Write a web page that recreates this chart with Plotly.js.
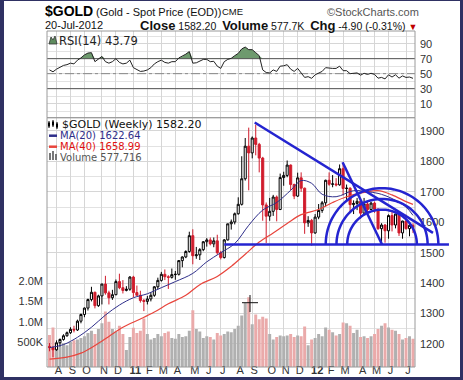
<!DOCTYPE html>
<html><head><meta charset="utf-8">
<script src="https://cdn.plot.ly/plotly-3.0.1.min.js"></script>
<style>
html,body{margin:0;padding:0;background:#fff;}
#wrap{position:relative;width:463px;height:380px;overflow:hidden;}
#chart{position:absolute;left:0;top:0;width:463px;height:380px;}
#frame{position:absolute;left:0;top:0;width:463px;height:380px;box-sizing:border-box;border-style:solid;border-color:#2f3163;border-width:1px 3px 3px 4px;pointer-events:none;}
</style></head><body>
<div id="wrap"><div id="chart"></div><div id="frame"></div></div>
<script>
// ---------------- DATA ----------------
const dates = ['2010-07-23','2010-07-30','2010-08-06','2010-08-13','2010-08-20','2010-08-27','2010-09-03','2010-09-10','2010-09-17','2010-09-24','2010-10-01','2010-10-08','2010-10-15','2010-10-22','2010-10-29','2010-11-05','2010-11-12','2010-11-19','2010-11-26','2010-12-03','2010-12-10','2010-12-17','2010-12-24','2010-12-31','2011-01-07','2011-01-14','2011-01-21','2011-01-28','2011-02-04','2011-02-11','2011-02-18','2011-02-25','2011-03-04','2011-03-11','2011-03-18','2011-03-25','2011-04-01','2011-04-08','2011-04-15','2011-04-22','2011-04-29','2011-05-06','2011-05-13','2011-05-20','2011-05-27','2011-06-03','2011-06-10','2011-06-17','2011-06-24','2011-07-01','2011-07-08','2011-07-15','2011-07-22','2011-07-29','2011-08-05','2011-08-12','2011-08-19','2011-08-26','2011-09-02','2011-09-09','2011-09-16','2011-09-23','2011-09-30','2011-10-07','2011-10-14','2011-10-21','2011-10-28','2011-11-04','2011-11-11','2011-11-18','2011-11-25','2011-12-02','2011-12-09','2011-12-16','2011-12-23','2011-12-30','2012-01-06','2012-01-13','2012-01-20','2012-01-27','2012-02-03','2012-02-10','2012-02-17','2012-02-24','2012-03-02','2012-03-09','2012-03-16','2012-03-23','2012-03-30','2012-04-06','2012-04-13','2012-04-20','2012-04-27','2012-05-04','2012-05-11','2012-05-18','2012-05-25','2012-06-01','2012-06-08','2012-06-15','2012-06-22','2012-06-29','2012-07-06','2012-07-13','2012-07-20'];
const opens  = [1192,1188,1181,1204,1215,1227,1237,1248,1246,1275,1297,1318,1346,1370,1326,1358,1397,1368,1352,1362,1405,1385,1376,1380,1420,1369,1360,1343,1340,1348,1360,1388,1409,1429,1421,1419,1428,1429,1474,1486,1504,1556,1490,1493,1510,1536,1542,1529,1539,1500,1484,1542,1595,1601,1628,1659,1743,1850,1828,1877,1856,1811,1657,1620,1636,1683,1642,1747,1754,1788,1724,1686,1746,1712,1598,1606,1565,1617,1639,1664,1738,1725,1726,1723,1776,1711,1712,1658,1662,1669,1630,1660,1642,1663,1643,1579,1591,1572,1622,1591,1627,1565,1604,1579,1590];
const highs  = [1203,1192,1212,1218,1232,1241,1255,1260,1280,1300,1320,1349,1388,1372,1362,1398,1424,1375,1378,1412,1431,1410,1390,1423,1424,1392,1375,1348,1358,1370,1390,1418,1437,1445,1426,1448,1440,1476,1488,1508,1569,1577,1519,1515,1538,1548,1550,1550,1559,1506,1545,1595,1609,1632,1682,1817,1877,1911,1882,1921,1861,1815,1665,1680,1690,1688,1760,1766,1803,1790,1727,1763,1764,1714,1620,1611,1627,1660,1670,1740,1764,1755,1745,1790,1796,1724,1715,1672,1680,1675,1680,1667,1667,1668,1645,1597,1594,1626,1640,1628,1628,1605,1625,1600,1597];
const lows   = [1176,1157,1178,1191,1211,1224,1233,1238,1243,1268,1288,1310,1340,1317,1322,1330,1362,1330,1345,1360,1380,1366,1373,1375,1354,1360,1336,1308,1330,1340,1355,1380,1405,1410,1381,1415,1411,1425,1452,1482,1500,1462,1480,1476,1505,1520,1524,1518,1494,1478,1481,1540,1576,1593,1625,1655,1737,1705,1810,1820,1764,1605,1532,1605,1621,1603,1640,1720,1748,1706,1676,1683,1700,1562,1585,1523,1562,1610,1631,1652,1720,1715,1718,1720,1688,1670,1635,1627,1640,1612,1628,1626,1640,1631,1575,1527,1533,1546,1570,1580,1555,1546,1576,1554,1565];
const closes = [1188,1181,1204,1215,1227,1237,1248,1246,1275,1297,1318,1346,1370,1326,1358,1397,1368,1352,1362,1405,1385,1376,1380,1420,1369,1360,1343,1340,1348,1360,1388,1409,1429,1421,1419,1428,1429,1474,1486,1504,1556,1490,1493,1510,1536,1542,1529,1539,1500,1484,1542,1595,1601,1628,1659,1743,1850,1828,1877,1856,1811,1657,1620,1636,1683,1642,1747,1754,1788,1724,1686,1746,1712,1598,1606,1565,1617,1639,1664,1738,1725,1726,1723,1776,1711,1712,1658,1662,1669,1630,1660,1642,1663,1643,1579,1591,1572,1622,1591,1627,1565,1604,1579,1590,1582.2];
const volumes = [670000,860000,430000,390000,470000,420000,500000,540000,560000,600000,640000,720000,780000,700000,820000,960000,1250000,1000000,820000,760000,900000,700000,300000,620000,850000,720000,780000,1080000,700000,560000,600000,700000,640000,720000,760000,600000,580000,700000,620000,640000,780000,1280000,820000,760000,600000,640000,620000,560000,720000,660000,700000,760000,740000,820000,900000,1150000,1460000,1600000,940000,1180000,1060000,1120000,1080000,700000,560000,620000,660000,640000,660000,700000,620000,660000,640000,880000,420000,560000,600000,700000,640000,860000,800000,740000,660000,700000,980000,960000,900000,720000,800000,620000,640000,600000,640000,700000,820000,900000,960000,860000,800000,780000,700000,560000,600000,640000,577716];
const rsi = [55,52.5,56,59,61,62,64,63,68,71,75,77.5,78,66,69,73,66,64,66,70,65,63,64,68,58,56,53,53.5,55,58,63,66,68,65,64,66,66,71,73,76,79.5,64,64.5,67,69,69,66,66.5,60,57,66,69,70.5,74,77,83,85.5,82,82,78,74,55,51.5,51,55,53,60,60.5,62,56,53,57,51,45,46,43.8,48.5,51,53,58,57,57,57,60,54,54,50,50.5,51,48,50.5,49,50.5,49,44,45,43,48.5,45.5,48.5,44,47,45,45.5,43.79];
const ma20Dates = ['2010-07-23','2010-08-20','2010-09-17','2010-10-15','2010-11-12','2010-12-10','2011-01-07','2011-02-04','2011-03-04','2011-04-01','2011-05-06','2011-06-03','2011-07-01','2011-07-29','2011-08-26','2011-09-23','2011-10-21','2011-11-18','2011-12-09','2011-12-30','2012-01-20','2012-02-17','2012-03-23','2012-04-20','2012-05-11','2012-06-08','2012-07-06','2012-07-20'];
const ma20 = [1188,1198,1222,1255,1295,1328,1352,1365,1385,1405,1432,1470,1500,1530,1590,1640,1665,1705,1737,1728,1692,1684,1704,1700,1695,1678,1650,1622.64];
const ma40Dates = ['2010-07-23','2010-08-27','2010-09-24','2010-10-22','2010-11-19','2010-12-17','2011-01-21','2011-02-18','2011-03-18','2011-04-22','2011-05-20','2011-06-24','2011-07-22','2011-08-19','2011-09-16','2011-10-14','2011-11-11','2011-12-09','2012-01-13','2012-02-10','2012-03-09','2012-04-13','2012-05-11','2012-06-08','2012-07-06','2012-07-20'];
const ma40 = [1150,1157,1170,1195,1225,1255,1282,1305,1332,1360,1395,1422,1455,1495,1535,1565,1596,1625,1642,1665,1684,1698,1704,1690,1668,1658.99];
const monthTicks = ['2010-08-06','2010-09-03','2010-10-01','2010-11-05','2010-12-03','2011-01-07','2011-02-04','2011-03-04','2011-04-01','2011-05-06','2011-06-03','2011-07-01','2011-08-05','2011-09-02','2011-10-07','2011-11-04','2011-12-02','2012-01-06','2012-02-03','2012-03-02','2012-04-06','2012-05-04','2012-06-01','2012-07-06'];
const monthLabels = ['A','S','O','N','D','<b>11</b>','F','M','A','M','J','J','A','S','O','N','D','<b>12</b>','F','M','A','M','J','J'];
const priceTicks = [1200,1300,1400,1500,1600,1700,1800,1900];
const volTicks = [500000,1000000,1500000,2000000];
const volLabels = ['500K','1.0M','1.5M','2.0M'];
const rsiTicks = [10,30,50,70,90];
// drawn trendlines / Fibonacci arcs (date, price)
const trendDates = ['2011-09-07','2012-08-29'];
const trendPrices = [1928,1565];
const fibDates = ['2012-03-01','2012-05-19'];
const fibPrices = [1797,1527];
const supportDates = ['2011-07-08','2012-09-30'];
const supportPrices = [1527,1527];
const fibRatios = [0.382,0.5,0.618];

// ---------------- GEOMETRY ----------------
const W=463,H=380,ML=47,MR=48,MT=31,MB=13;
const PW=W-ML-MR, PH=H-MT-MB;
const X_RANGE=['2010-07-18','2012-07-24'];
const MAIN_DOM=[0,0.742], RSI_DOM=[0.742,1];
const PRICE_RANGE=[1124.4,1943.7];
const VOL_RANGE=[-115800,6024000];
const RSI_RANGE=[-8.7,106.9];
const ms=d=>new Date(d+'T00:00:00Z').getTime();
const xr0=ms(X_RANGE[0]), xr1=ms(X_RANGE[1]);
const xP=d=>(ms(d)-xr0)/(xr1-xr0);
const yP=p=>MAIN_DOM[0]+(p-PRICE_RANGE[0])/(PRICE_RANGE[1]-PRICE_RANGE[0])*(MAIN_DOM[1]-MAIN_DOM[0]);
const pxX=px=>(px-ML)/PW, pxY=py=>(H-MB-py)/PH;

const BLUE='#2424d0';
// ---------------- TRACES ----------------
const up = closes.map((c,i)=> i===0 ? c>=opens[0] : c>=closes[i-1]);
function pick(arr,flag){return arr.filter((v,i)=>up[i]===flag);}
const traces=[];
traces.push({type:'bar',x:dates,y:volumes.map(v=>v-VOL_RANGE[0]),base:VOL_RANGE[0],xaxis:'x',yaxis:'y2',
  marker:{color:up.map(u=>u?'#b0b0b0':'#eaaaaa'),line:{width:0}},hoverinfo:'skip'});
traces.push({type:'scatter',mode:'lines',x:ma40Dates,y:ma40,xaxis:'x',yaxis:'y3',line:{color:'#e8453c',width:1.2,shape:'spline'},hoverinfo:'skip'});
traces.push({type:'scatter',mode:'lines',x:ma20Dates,y:ma20,xaxis:'x',yaxis:'y3',line:{color:'#2e2e8a',width:1,shape:'spline'},hoverinfo:'skip'});
[[true,'#000000'],[false,'#d01c2c']].forEach(([flag,col])=>{
  traces.push({type:'candlestick',x:pick(dates,flag),open:pick(opens,flag),high:pick(highs,flag),low:pick(lows,flag),close:pick(closes,flag),
    xaxis:'x',yaxis:'y3',whiskerwidth:0,
    increasing:{line:{color:col,width:1},fillcolor:'#ffffff'},
    decreasing:{line:{color:col,width:1},fillcolor:col},hoverinfo:'skip'});
});
// RSI
traces.push({type:'scatter',mode:'lines',x:dates,y:dates.map(()=>70),xaxis:'x',yaxis:'y',line:{width:0},hoverinfo:'skip'});
traces.push({type:'scatter',mode:'lines',x:dates,y:rsi.map(v=>Math.max(v,70)),xaxis:'x',yaxis:'y',line:{width:0},fill:'tonexty',fillcolor:'#6e9a6e',hoverinfo:'skip'});
[[70,'solid','#555'],[30,'solid','#555'],[50,'dashdot','#888']].forEach(([lv,dash,col])=>{
  traces.push({type:'scatter',mode:'lines',x:X_RANGE,y:[lv,lv],xaxis:'x',yaxis:'y',line:{color:col,width:1,dash:dash},hoverinfo:'skip'});
});
traces.push({type:'scatter',mode:'lines',x:dates,y:rsi,xaxis:'x',yaxis:'y',line:{color:'#222',width:1},hoverinfo:'skip'});

// ---------------- SHAPES ----------------
const shapes=[];
shapes.push({type:'rect',xref:'paper',yref:'paper',x0:0,x1:1,y0:RSI_DOM[0],y1:RSI_DOM[1],line:{color:'#9a9a9a',width:1}});
shapes.push({type:'rect',xref:'paper',yref:'paper',x0:0,x1:1,y0:MAIN_DOM[0],y1:MAIN_DOM[1],line:{color:'#9a9a9a',width:1}});
function seg(ds,ps){return {type:'line',xref:'paper',yref:'paper',x0:xP(ds[0]),y0:yP(ps[0]),x1:xP(ds[1]),y1:yP(ps[1]),line:{color:BLUE,width:2.5}};}
shapes.push(seg(supportDates,supportPrices));
shapes.push(seg(trendDates,trendPrices));
shapes.push(seg(fibDates,fibPrices));
// Fibonacci arcs centred on fib line end, radius = ratio * pixel length
const fx0=xP(fibDates[0])*PW, fy0=yP(fibPrices[0])*PH, fx1=xP(fibDates[1])*PW, fy1=yP(fibPrices[1])*PH;
const fLen=Math.hypot(fx1-fx0,fy1-fy0);
fibRatios.forEach(r=>{
  const rad=r*fLen; let p='';
  for(let k=0;k<=60;k++){const t=Math.PI*k/60;
    const x=(fx1+rad*Math.cos(t))/PW, y=(fy1+rad*Math.sin(t))/PH;
    p+=(k===0?'M':'L')+x.toFixed(5)+','+y.toFixed(5);}
  shapes.push({type:'path',xref:'paper',yref:'paper',path:p,line:{color:BLUE,width:2.5}});
});
// cursor crosshair in screenshot
shapes.push({type:'line',xref:'paper',yref:'paper',x0:pxX(242),x1:pxX(258),y0:pxY(302.7),y1:pxY(302.7),line:{color:'#111',width:1}});
shapes.push({type:'line',xref:'paper',yref:'paper',x0:pxX(250),x1:pxX(250),y0:pxY(295),y1:pxY(312),line:{color:'#111',width:1}});
// legend icons
shapes.push({type:'line',xref:'paper',yref:'paper',x0:pxX(49),x1:pxX(57),y0:pxY(135.7),y1:pxY(135.7),line:{color:'#2e2e8a',width:2.5}});
shapes.push({type:'line',xref:'paper',yref:'paper',x0:pxX(49),x1:pxX(57),y0:pxY(146.7),y1:pxY(146.7),line:{color:'#e8453c',width:2.5}});
[[49,153],[52,151],[55,154]].forEach(([x,y])=>shapes.push({type:'rect',xref:'paper',yref:'paper',x0:pxX(x),x1:pxX(x+2),y0:pxY(160),y1:pxY(y),fillcolor:'#777',line:{width:0}}));
[[49,121,128],[53,120,127],[57,122,129]].forEach(([x,a,b])=>{shapes.push({type:'line',xref:'paper',yref:'paper',x0:pxX(x),x1:pxX(x),y0:pxY(a),y1:pxY(b),line:{color:'#000',width:1}});});
[[48,122.5,126.5],[52,121.5,125.5],[56,123.5,127.5]].forEach(([x,a,b])=>shapes.push({type:'rect',xref:'paper',yref:'paper',x0:pxX(x),x1:pxX(x+2),y0:pxY(b),y1:pxY(a),fillcolor:'#000',line:{width:0}}));
shapes.push({type:'path',xref:'paper',yref:'paper',path:`M${pxX(49)},${pxY(44)}L${pxX(51)},${pxY(37)}L${pxX(53)},${pxY(40)}L${pxX(55)},${pxY(36)}L${pxX(57)},${pxY(44)}Z`,fillcolor:'#5f8c5f',line:{color:'#333',width:0.8}});

// ---------------- ANNOTATIONS ----------------
const F='Liberation Sans, Arial, sans-serif', V='DejaVu Sans, Verdana, sans-serif';
function ann(text,px,py,opt){return Object.assign({text:text,xref:'paper',yref:'paper',x:pxX(px),y:pxY(py),xanchor:'left',yanchor:'middle',showarrow:false,borderpad:0,font:{family:F,size:11,color:'#111'}},opt||{});}
const annotations=[
  ann('<b>$GOLD</b>',44,11,{font:{family:F,size:14,color:'#000'}}),
  ann('(Gold - Spot Price (EOD))',95,11.5,{font:{family:F,size:11,color:'#111'}}),
  ann('CME',221,12,{font:{family:F,size:9.5,color:'#111'}}),
  ann('©StockCharts.com',326,11.5,{font:{family:F,size:11,color:'#555'}}),
  ann('20-Jul-2012',44,25,{font:{family:F,size:11,color:'#111'}}),
  ann('<span style="font-size:13px"><b>Close</b></span> 1582.20  <span style="font-size:13px"><b>Volume</b></span> 577.7K  <span style="font-size:13px"><b>Chg</b></span> -4.90 (-0.31%) <span style="color:#c00000;font-size:9px">▼</span>',418,25,{xanchor:'right',font:{family:F,size:10.5,color:'#111'}}),
  ann('RSI(14) 43.79',58,41,{font:{family:V,size:11.5,color:'#222'}}),
  ann('$GOLD (Weekly) 1582.20',61,124.5,{font:{family:V,size:11,color:'#111'}}),
  ann('MA(20) 1622.64',59,135.7,{font:{family:V,size:10,color:'#2e2e8a'}}),
  ann('MA(40) 1658.99',59,146.4,{font:{family:V,size:10,color:'#e01010'}}),
  ann('Volume 577,716',59,157,{font:{family:V,size:10,color:'#555'}})
];

const tickFont={family:F,size:11,color:'#333'};
const layout={
  width:W,height:H,margin:{l:ML,r:MR,t:MT,b:MB,pad:0},
  paper_bgcolor:'#ffffff',plot_bgcolor:'#ffffff',showlegend:false,
  boxgap:0.15,bargap:0.15,
  xaxis:{type:'date',range:X_RANGE,anchor:'y2',tickvals:monthTicks,ticktext:monthLabels,tickfont:tickFont,
    showgrid:true,gridcolor:'#d6d6d6',gridwidth:1,zeroline:false,showline:false,ticks:'',
    rangeslider:{visible:false},ticklabelshift:2,ticklabelstandoff:-5},
  yaxis:{domain:RSI_DOM,range:RSI_RANGE,side:'right',tickvals:rsiTicks,tickfont:tickFont,showgrid:true,gridcolor:'#d6d6d6',
    minor:{dtick:10,tick0:0,showgrid:true,gridcolor:'#e2e2e2'},zeroline:false,ticks:'',ticklabelstandoff:4},
  yaxis2:{domain:MAIN_DOM,range:VOL_RANGE,side:'left',tickvals:volTicks,ticktext:volLabels,tickfont:tickFont,showgrid:false,zeroline:false,ticks:'',ticklabelstandoff:3},
  yaxis3:{domain:MAIN_DOM,range:PRICE_RANGE,overlaying:'y2',side:'right',tickvals:priceTicks,tickfont:tickFont,showgrid:true,gridcolor:'#d6d6d6',
    minor:{dtick:50,tick0:0,showgrid:true,gridcolor:'#e2e2e2'},zeroline:false,ticks:'',ticklabelstandoff:4},
  shapes:shapes,annotations:annotations
};
Plotly.newPlot('chart',traces,layout,{staticPlot:true,displayModeBar:false});
</script></body></html>
